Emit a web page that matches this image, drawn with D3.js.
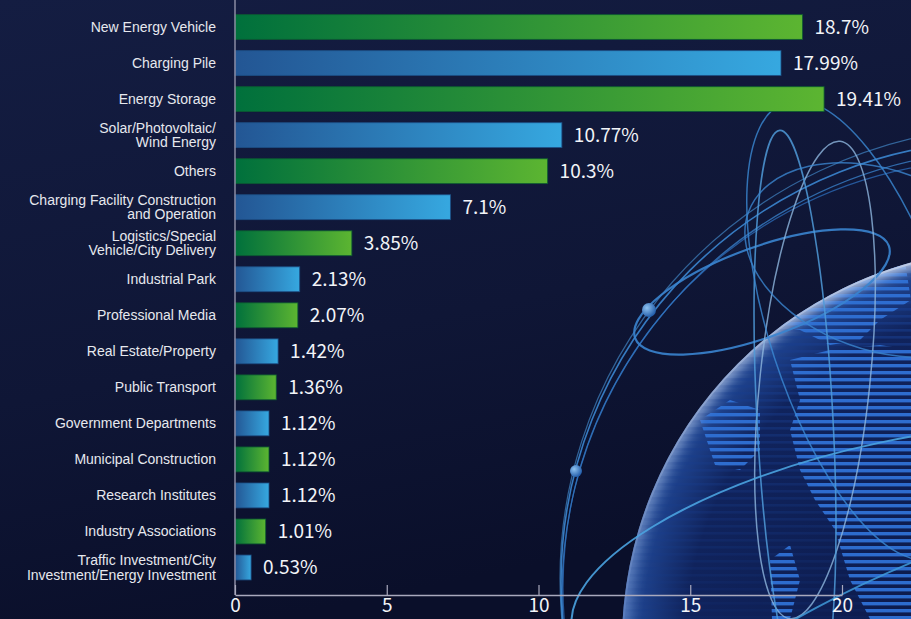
<!DOCTYPE html>
<html><head><meta charset="utf-8">
<script src="https://cdn.jsdelivr.net/npm/d3@7/dist/d3.min.js"></script>
<style>html,body{margin:0;padding:0;background:#0f1738;overflow:hidden}svg{display:block}</style>
</head><body>
<svg id="c" width="911" height="619"></svg>
<script>
const categories = [
  "New Energy Vehicle","Charging Pile","Energy Storage","Solar/Photovoltaic/\nWind Energy","Others",
  "Charging Facility Construction\nand Operation","Logistics/Special\nVehicle/City Delivery","Industrial Park",
  "Professional Media","Real Estate/Property","Public Transport","Government Departments",
  "Municipal Construction","Research Institutes","Industry Associations",
  "Traffic Investment/City\nInvestment/Energy Investment"
];
const values = [18.7,17.99,19.41,10.77,10.3,7.1,3.85,2.13,2.07,1.42,1.36,1.12,1.12,1.12,1.01,0.53];
const valueLabels = ["18.7%","17.99%","19.41%","10.77%","10.3%","7.1%","3.85%","2.13%","2.07%","1.42%","1.36%","1.12%","1.12%","1.12%","1.01%","0.53%"];
const tickValues = [0,5,10,15,20];
const tickLabels = ["0","5","10","15","20"];

const W = 911, H = 619;
const svg = d3.select("#c");
const defs = svg.append("defs");

// background
const bg = defs.append("linearGradient").attr("id","bg").attr("x1",0).attr("y1",0).attr("x2",0.3).attr("y2",1);
bg.append("stop").attr("offset","0%").attr("stop-color","#141d42");
bg.append("stop").attr("offset","60%").attr("stop-color","#0f1636");
bg.append("stop").attr("offset","100%").attr("stop-color","#0a0f2a");
svg.append("rect").attr("width",W).attr("height",H).attr("fill","url(#bg)");

// ---------- decorative globe ----------
const gcx = 1017, gcy = 643, gr = 395;
const sph = defs.append("radialGradient").attr("id","sph").attr("cx","0.5").attr("cy","0.5").attr("r","0.5");
sph.append("stop").attr("offset","0%").attr("stop-color","#0b1745");
sph.append("stop").attr("offset","84%").attr("stop-color","#10235c");
sph.append("stop").attr("offset","95%").attr("stop-color","#1d3f88");
sph.append("stop").attr("offset","100%").attr("stop-color","#3e64aa");
const rim = defs.append("linearGradient").attr("id","rim").attr("x1",0.3).attr("y1",0).attr("x2",0).attr("y2",0.8);
rim.append("stop").attr("offset","0%").attr("stop-color","#c9d4ea").attr("stop-opacity",0.85);
rim.append("stop").attr("offset","50%").attr("stop-color","#7f9acb").attr("stop-opacity",0.55);
rim.append("stop").attr("offset","100%").attr("stop-color","#2458c0").attr("stop-opacity",0.5);
const blur = defs.append("filter").attr("id","soft").attr("x","-10%").attr("y","-10%").attr("width","120%").attr("height","120%");
blur.append("feGaussianBlur").attr("stdDeviation",5);
defs.append("clipPath").attr("id","sphClip").append("circle").attr("cx",gcx).attr("cy",gcy).attr("r",gr);
const pat = defs.append("pattern").attr("id","stripes").attr("patternUnits","userSpaceOnUse").attr("width",10).attr("height",7);
pat.append("rect").attr("width",10).attr("height",3.4).attr("fill","#2f70d4");
const pat2 = defs.append("pattern").attr("id","stripes2").attr("patternUnits","userSpaceOnUse").attr("width",10).attr("height",7);
pat2.append("rect").attr("width",10).attr("height",2.6).attr("fill","#1a3f8e");
const fadeM = defs.append("linearGradient").attr("id","fadeM").attr("x1",0).attr("y1",0).attr("x2",0).attr("y2",1);
fadeM.append("stop").attr("offset","0%").attr("stop-color","#fff").attr("stop-opacity",1);
fadeM.append("stop").attr("offset","100%").attr("stop-color","#fff").attr("stop-opacity",0.15);
defs.append("mask").attr("id","fade").append("rect").attr("x",560).attr("y",250).attr("width",360).attr("height",370).attr("fill","url(#fadeM)");

const globe = svg.append("g");
globe.append("circle").attr("cx",gcx).attr("cy",gcy).attr("r",gr).attr("fill","url(#sph)");
const gin = globe.append("g").attr("clip-path","url(#sphClip)");
gin.append("rect").attr("x",600).attr("y",240).attr("width",320).attr("height",380).attr("fill","url(#stripes2)").attr("opacity",0.7).attr("mask","url(#fade)");
const land = [
  "M760,300 L800,280 L850,268 L905,262 L911,300 L880,320 L860,340 L830,345 L800,330 L770,325 Z",
  "M790,360 L830,350 L880,345 L911,350 L911,619 L870,619 L850,580 L835,530 L815,500 L800,470 L790,430 L800,400 Z",
  "M700,420 L730,400 L760,410 L760,450 L740,470 L715,465 Z",
  "M770,560 L790,545 L800,580 L790,619 L772,619 Z"
];
gin.selectAll("path.land").data(land).join("path").attr("class","land").attr("d",d=>d).attr("fill","url(#stripes)").attr("opacity",0.95);
gin.append("circle").attr("cx",gcx).attr("cy",gcy).attr("r",gr+2).attr("fill","none").attr("stroke","url(#rim)").attr("stroke-width",16).attr("filter","url(#soft)");
globe.append("circle").attr("cx",gcx).attr("cy",gcy).attr("r",gr-1).attr("fill","none").attr("stroke","url(#rim)").attr("stroke-width",2).attr("opacity",0.8);

const orbits = [
  [1002,582,441,441,0,"#3b86d0",1.6,0.9],
  [1010,590,448,440,-8,"#3b86d0",1.3,0.75],
  [995,588,432,428,6,"#2f74c4",1.2,0.7],
  [1018,578,458,452,-4,"#4a98dc",1.2,0.6],
  [762,292,135,45,-20,"#3a84cf",2.2,0.9],
  [815,380,55,240,6,"#8fb6de",1.5,0.8],
  [795,420,38,290,-3,"#4f9ad8",1.6,0.85],
  [860,330,90,240,-18,"#3b8ad4",1.5,0.8],
  [905,560,340,120,-12,"#4aa3e0",2.0,0.9],
  [960,640,330,90,-22,"#3f9ad8",1.8,0.85],
  [880,260,140,90,20,"#3b86d0",1.5,0.8]
];
globe.selectAll("ellipse.orb").data(orbits).join("ellipse").attr("class","orb")
  .attr("cx",0).attr("cy",0).attr("rx",d=>d[2]).attr("ry",d=>d[3])
  .attr("transform",d=>`translate(${d[0]},${d[1]}) rotate(${d[4]})`)
  .attr("fill","none").attr("stroke",d=>d[5]).attr("stroke-width",d=>d[6]).attr("opacity",d=>d[7]);
const ballG = defs.append("radialGradient").attr("id","ball").attr("cx","0.35").attr("cy","0.35").attr("r","0.7");
ballG.append("stop").attr("offset","0%").attr("stop-color","#8ec2f0");
ballG.append("stop").attr("offset","100%").attr("stop-color","#1f5aa8");
globe.selectAll("circle.ball").data([[649,310,7],[576,471,6]]).join("circle").attr("class","ball")
  .attr("cx",d=>d[0]).attr("cy",d=>d[1]).attr("r",d=>d[2]).attr("fill","url(#ball)");

// ---------- chart ----------
const x = d3.scaleLinear().domain([0,20]).range([235,842]);
const y = d3.scaleBand().domain(categories).range([9,585.5]).paddingInner(0.31).paddingOuter(0.155);

const palettes = [["#00703c","#5cb531","#0b5a32"],["#235694","#36a8e0","#1d4f86"]];
palettes.forEach((p,i)=>{
  const g = defs.append("linearGradient").attr("id","bar"+i).attr("x1",0).attr("x2",1).attr("y1",0).attr("y2",0);
  g.append("stop").attr("offset","0%").attr("stop-color",p[0]);
  g.append("stop").attr("offset","100%").attr("stop-color",p[1]);
});

const chart = svg.append("g");
chart.selectAll("rect.bar").data(values).join("rect").attr("class","bar")
  .attr("x",x(0)).attr("y",(d,i)=>y(categories[i]))
  .attr("width",d=>x(d)-x(0)).attr("height",y.bandwidth())
  .attr("fill",(d,i)=>`url(#bar${i%2})`)
  .attr("stroke",(d,i)=>palettes[i%2][2]).attr("stroke-width",1).attr("stroke-opacity",0.8);

chart.selectAll("text.val").data(values).join("text").attr("class","val")
  .attr("x",d=>x(d)+12).attr("y",(d,i)=>y(categories[i])+y.bandwidth()/2)
  .attr("dy","0.36em").attr("fill","#f2f4f8")
  .style("font-family","'Noto Sans CJK SC','Noto Sans',sans-serif").style("font-size","19px")
  .text((d,i)=>valueLabels[i]);

// category labels
const lab = chart.selectAll("text.cat").data(categories).join("text").attr("class","cat")
  .attr("text-anchor","end").attr("fill","#e6e8ee")
  .style("font-family","'Liberation Sans',Arial,sans-serif").style("font-size","14px");
lab.each(function(d){
  const lines = d.split("\n");
  const cy = y(d)+y.bandwidth()/2;
  const lh = 14.5;
  const t = d3.select(this);
  lines.forEach((ln,k)=>{
    t.append("tspan").attr("x",216).attr("y",cy + (k-(lines.length-1)/2)*lh).attr("dy","0.36em").text(ln);
  });
});

// axes
chart.append("line").attr("x1",x(0)).attr("x2",x(0)).attr("y1",0).attr("y2",595)
  .attr("stroke","#8b8ba3").attr("stroke-width",1.5);
const xa = chart.append("g").attr("transform","translate(0,595)")
  .call(d3.axisBottom(x).tickValues(tickValues).tickFormat((d,i)=>tickLabels[i]).tickSize(-10).tickSizeOuter(0).tickPadding(3));
xa.select(".domain").attr("stroke","#a9a9bd").attr("stroke-width",1.5);
xa.selectAll(".tick line").attr("stroke","#a9a9bd").attr("stroke-width",1.2);
xa.selectAll(".tick text").attr("fill","#f2f4f8").style("font-family","'Noto Sans CJK SC','Noto Sans',sans-serif").style("font-size","19px");
</script>
</body></html>
